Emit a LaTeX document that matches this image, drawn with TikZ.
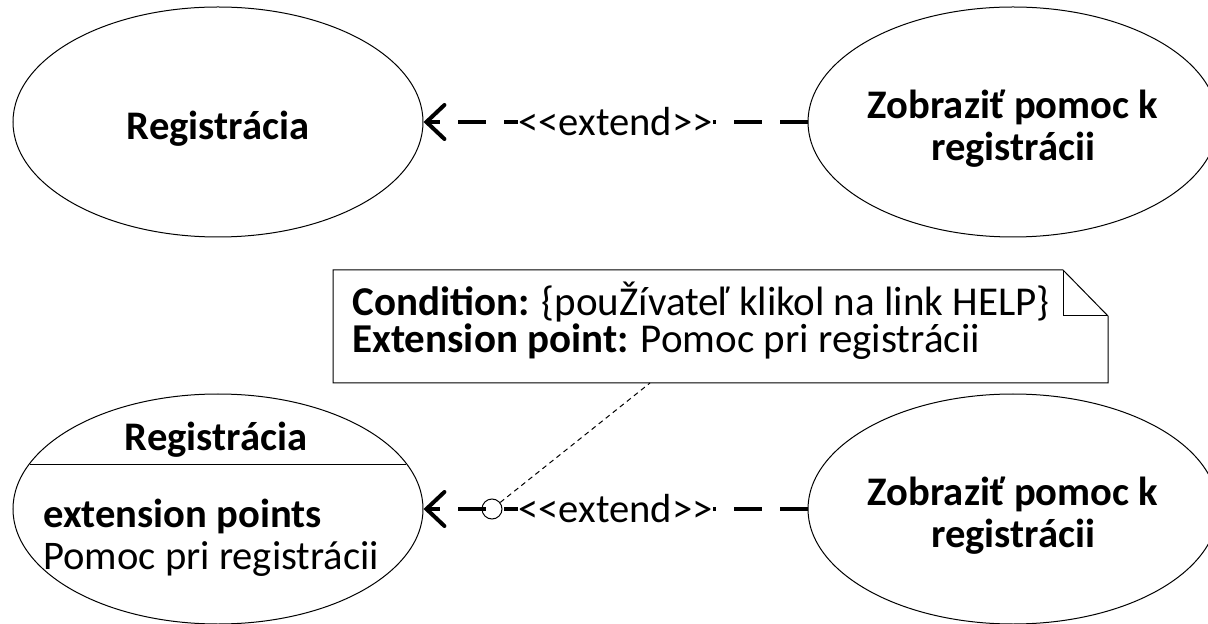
\documentclass[tikz,border=0pt]{standalone}
\usepackage{fontspec}
\setmainfont{Carlito}
\usetikzlibrary{arrows.meta,shapes.geometric,calc}
\tikzset{
  usecase/.style={ellipse, draw, line width=0.5pt, minimum width=205pt, minimum height=115pt, inner sep=0pt},
  casetext/.style={align=center, inner sep=0pt, font=\fontsize{20.3}{21}\selectfont\bfseries},
  extendline/.style={line width=2pt, dash pattern=on 14pt off 9pt,
    -{Straight Barb[length=9pt,width=17pt,line cap=round]}},
  stereo/.style={fill=white, inner sep=0pt, font=\fontsize{20.3}{24}\selectfont},
  notetext/.style={align=left, inner sep=0pt, font=\fontsize{20.5}{18.5}\selectfont},
  thinline/.style={line width=0.5pt}
}
\begin{document}
\begin{tikzpicture}[x=0.5pt, y=-0.5pt]
        \useasboundingbox (0,0) rectangle (1208,624);
        % top pair
        \node[usecase] (reg1) at (218,122) {};
        \node[casetext] (reg1text) at ([yshift=-3.5pt]reg1.center) {Registrácia};
        \node[usecase] (help1) at (1013,122) {};
        \node[casetext] (help1text) at ([yshift=-3.5pt]help1.center) {Zobraziť pomoc k\\registrácii};
        \draw[extendline] (help1) -- (reg1) node[stereo, midway] {<{}<extend>{}>};
        % bottom pair
        \node[usecase] (reg2) at (218,509) {};
        \draw[thinline] (30,464) -- (406,464);
        \node[casetext] (reg2title) at (216,440) {Registrácia};
        \node[anchor=west, align=left, inner sep=0pt, font=\fontsize{20.3}{21}\selectfont] (reg2points) at (43,538)
          {\textbf{extension points}\\Pomoc pri registrácii};
        \node[usecase] (help2) at (1013,509) {};
        \node[casetext] (help2text) at ([yshift=-3.5pt]help2.center) {Zobraziť pomoc k\\registrácii};
        \node[circle, draw, thinline, minimum size=10pt, inner sep=0pt] (hook) at (492,509) {};
        \draw[extendline] (help2) -- (reg2) node[stereo, midway] {<{}<extend>{}>};
        % note
        \draw[thinline] (333,270) -- (1063,270) -- (1108,316) -- (1108,383) -- (333,383) -- cycle;
        \draw[thinline] (1063,270) |- (1108,316);
        \node[notetext, anchor=west] (cond) at (352,321)
          {\textbf{Condition:} \{pouŽívateľ klikol na link HELP\}\\\textbf{Extension point:} Pomoc pri registrácii};
        \coordinate (notefoot) at (650,383);
        \draw[thinline, dash pattern=on 2.5pt off 2pt] (hook) -- (notefoot);
\end{tikzpicture}
\end{document}
